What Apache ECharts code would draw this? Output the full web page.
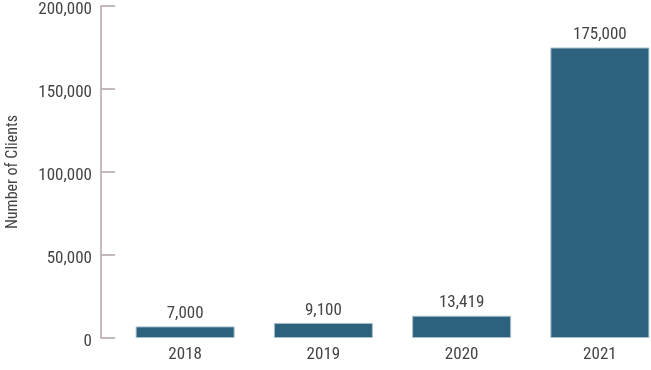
<!DOCTYPE html>
<html><head><meta charset="utf-8">
<script src="https://cdn.jsdelivr.net/npm/echarts@6/dist/echarts.min.js"></script>
<style>html,body{margin:0;padding:0;background:#fff}#c{width:651px;height:370px}</style>
</head><body><div id="c"></div>
<script>
const categories = ['2018', '2019', '2020', '2021'];
const clients = [7000, 9100, 13419, 175000];
const yTicks = [0, 50000, 100000, 150000, 200000];

const FONT = '"Liberation Sans Narrow", "Roboto Condensed", "Arial Narrow", sans-serif';
const fmt = v => v.toLocaleString('en-US');
const chart = echarts.init(document.getElementById('c'));
chart.setOption({
  animation: false,
  grid: { left: 116, top: 6, bottom: 32, width: 553, containLabel: false, outerBoundsMode: 'none' },
  xAxis: {
    type: 'category', data: categories,
    axisLine: { show: false }, axisTick: { show: false },
    axisLabel: { color: '#444', fontSize: 17, fontFamily: FONT, margin: 8 }
  },
  yAxis: {
    type: 'value', min: yTicks[0], max: yTicks[yTicks.length - 1], interval: 50000,
    offset: 15,
    name: 'Number of Clients', nameLocation: 'middle', nameGap: 80,
    nameTextStyle: { color: '#444', fontSize: 16, fontFamily: FONT },
    axisLine: { show: true, lineStyle: { color: '#b3a3aa', width: 1.5 } },
    axisTick: { show: true, inside: true, length: 14, lineStyle: { color: '#b3a3aa', width: 1.5 } },
    splitLine: { show: false },
    axisLabel: {
      color: '#444', fontSize: 17, fontFamily: FONT, margin: 9,
      formatter: v => '{a|' + fmt(v) + '}',
      rich: { a: { color: '#444', fontSize: 17, fontFamily: FONT, padding: [8, 0, 0, 0] } }
    }
  },
  series: [{
    type: 'bar', data: clients, barWidth: 99,
    itemStyle: { color: '#2c627d', borderColor: '#a9c0cc', borderWidth: 1 },
    label: { show: true, position: 'top', distance: 4, color: '#444', fontSize: 17, fontFamily: FONT, formatter: p => fmt(p.value) }
  }]
});
</script></body></html>
